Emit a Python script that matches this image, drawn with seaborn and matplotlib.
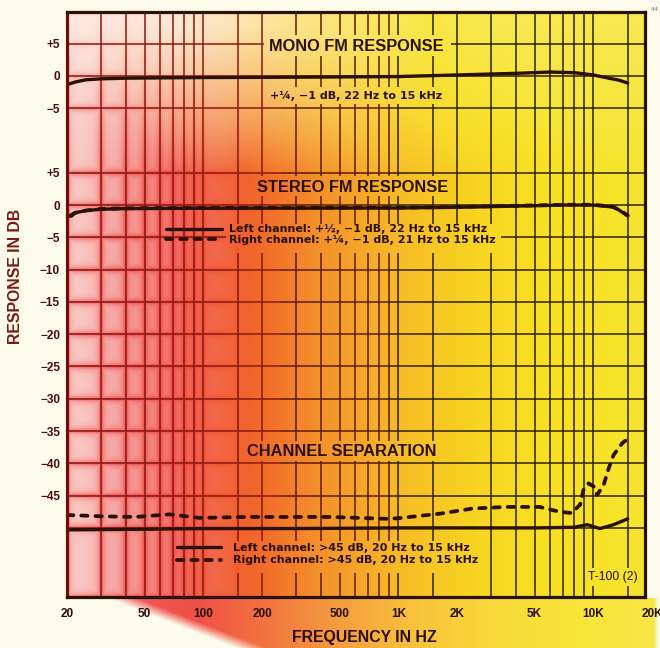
import numpy as np
import matplotlib
matplotlib.use("Agg")
import matplotlib.pyplot as plt
import seaborn as sns
from matplotlib.image import BboxImage
from matplotlib.transforms import Bbox, TransformedBbox, blended_transform_factory
from matplotlib.patches import Rectangle

# ---------------- data ----------------
x_tick_freqs = [20, 50, 100, 200, 500, 1000, 2000, 5000, 10000]
x_tick_labels = ["20", "50", "100", "200", "500", "1K", "2K", "5K", "10K"]
x_extra_freq = 20000
x_extra_label = "20K"

y_tick_values = [25, 20, 15, 5, 0, -5, -10, -15, -20, -25, -30, -35, -40, -45]
y_tick_labels = ["+5", "0", "−5", "+5", "0", "−5", "−10", "−15", "−20",
                 "−25", "−30", "−35", "−40", "−45"]

grid_freqs = [30, 40, 50, 60, 70, 80, 90, 100, 150, 200, 300, 400, 500, 600,
              700, 800, 900, 1000, 1500, 3000, 4000, 5000, 6000, 7000, 8000,
              9000, 10000, 15000]
partial_grid_freq = 2000
grid_levels = [25, 20, 15, 5, 0, -5, -10, -15, -20, -25, -30, -35, -40, -45, -50]

MONO_OFFSET = 20  # mono panel drawn 20 dB above the stereo scale

mono_freq = [20, 22, 25, 30, 40, 60, 100, 300, 1000, 2000, 4000, 6000, 8000,
             10000, 12000, 13500, 15000]
mono_db = [-1.35, -0.95, -0.6, -0.45, -0.35, -0.3, -0.25, -0.2, -0.1, 0.15,
           0.4, 0.6, 0.5, 0.15, -0.35, -0.65, -1.1]

stereo_left_freq = [20, 22, 25, 30, 40, 100, 1000, 2000, 5000, 7000, 10000,
                    12600, 13600, 15000]
stereo_left_db = [-1.85, -1.2, -0.85, -0.65, -0.55, -0.5, -0.45, -0.35, -0.1,
                  0.0, 0.0, -0.3, -0.8, -1.7]
stereo_right_freq = [21, 22, 25, 30, 40, 100, 1000, 2000, 5000, 7000, 10000,
                     12600, 13600, 15000]
stereo_right_db = [-1.7, -1.2, -0.85, -0.6, -0.5, -0.45, -0.4, -0.3, -0.05,
                   0.05, 0.05, -0.25, -0.75, -1.6]

sep_left_freq = [20, 50, 100, 300, 1000, 3000, 5000, 8000, 9300, 10800,
                 12700, 15000]
sep_left_db = [-50.3, -50.2, -50.1, -50.1, -50.0, -50.0, -50.0, -49.9, -49.5,
               -50.1, -49.5, -48.6]
sep_right_freq = [20, 30, 45, 67, 96, 170, 450, 875, 1000, 1630, 2400, 3600,
                  5300, 6700, 7750, 8550, 8900, 9450, 10050, 10450, 11300,
                  11980, 12700, 14050, 15000]
sep_right_db = [-48.0, -48.2, -48.3, -47.9, -48.45, -48.3, -48.3, -48.6, -48.5,
                -47.8, -47.0, -46.75, -46.75, -47.5, -47.7, -46.4, -44.1,
                -43.1, -43.6, -44.9, -43.3, -40.8, -38.7, -36.9, -36.2]

title_mono = "MONO FM RESPONSE"
note_mono = "+¼, −1 dB, 22 Hz to 15 kHz"
title_stereo = "STEREO FM RESPONSE"
stereo_labels = ["Left channel: +½, −1 dB, 22 Hz to 15 kHz",
                 "Right channel: +¼, −1 dB, 21 Hz to 15 kHz"]
title_sep = "CHANNEL SEPARATION"
sep_labels = ["Left channel: >45 dB, 20 Hz to 15 kHz",
              "Right channel: >45 dB, 20 Hz to 15 kHz"]
code_text = "T-100 (2)"
x_title = "FREQUENCY IN HZ"
y_title = "RESPONSE IN DB"

# ---------------- layout ----------------
W, H = 660, 648
AX_L, AX_R, AX_T, AX_B = 67, 645, 12, 597
INK = "#2a1005"

fig = plt.figure(figsize=(W / 100, H / 100), dpi=100)
bgax = fig.add_axes([0, 0, 1, 1], zorder=0)
ax = fig.add_axes([AX_L / W, 1 - AX_B / H, (AX_R - AX_L) / W, (AX_B - AX_T) / H], zorder=1)
ax.set_facecolor("none")
ax.set_xscale("log")
ax.set_xlim(20, 18400)
ax.set_ylim(-60.7, 29.9)


def fpx(x, y):
    return x / W, 1 - y / H


# ---------------- background (paper gradient) ----------------
vcols = list(ax.transData.transform([[f, 0] for f in grid_freqs + [partial_grid_freq]])[:, 0])
vcols += [AX_L, AX_R]
hrows = list(H - ax.transData.transform([[100, v] for v in grid_levels])[:, 1])
hrows += [AX_T, AX_B]

yy, xx = np.mgrid[0:H, 0:W].astype(float)
stops = np.array([67, 120, 180, 250, 320, 400, 480, 560, 645, 700])
cols = np.array([(242, 100, 100), (238, 70, 70), (238, 60, 50), (241, 100, 42),
                 (244, 145, 42), (247, 188, 38), (248, 214, 33), (247, 226, 33),
                 (246, 228, 48), (246, 228, 48)]) / 255.0


def ramp(xp):
    return np.stack([np.interp(xp, stops, cols[:, i]) for i in range(3)], -1)


t = np.clip((175 - yy) / 150, 0, 1)
base = ramp(xx + 150 * t)
wt = (0.62 * t * np.clip((430 - xx) / 250, 0, 1) + 0.15 * t)[..., None]
col = base * (1 - wt) + wt
dcol = np.min(np.abs(np.arange(W)[:, None] + 0.5 - np.array(vcols)[None, :]), axis=1)
drow = np.min(np.abs(np.arange(H)[:, None] + 0.5 - np.array(hrows)[None, :]), axis=1)
d = np.minimum(dcol[None, :], drow[:, None])
halo = np.exp(-d / 3.0)
s = np.clip((250 - xx) / 170, 0, 1)
cw = (0.75 * s * (1 - halo))[..., None]
col = col * (1 - cw) + cw * np.array([0.99, 0.93, 0.90])

cream = np.array([253, 251, 236]) / 255.0
inside = ((xx >= AX_L) & (xx <= AX_R) & (yy >= AX_T) & (yy <= AX_B))[..., None]
bg = np.where(inside, col, cream)
# colour smear below the frame
edge = 105 + (yy - AX_B) * 2.6
a = (np.clip((xx - edge) / 30, 0, 1) * np.clip((658 - xx) / 5, 0, 1)
     * (yy > AX_B))[..., None]
smear = ramp(xx - 15) * 0.9 + 0.1
bg = bg * (1 - a) + smear * a
bg = np.clip(bg, 0, 1)

bgax.imshow(bg, aspect="auto", interpolation="nearest")
bgax.axis("off")


def cover(x0, y0, x1, y1):
    bb = TransformedBbox(Bbox.from_bounds(0, 0, 1, 1), fig.transFigure)
    im = BboxImage(bb, interpolation="nearest")
    im.set_data(bg)
    im.set_zorder(1.5)
    ax.add_artist(im)
    r = Rectangle(fpx(x0, y1), (x1 - x0) / W, (y1 - y0) / H, transform=fig.transFigure)
    im.set_clip_path(r)


# ---------------- grid ----------------
def vcolor(f):
    if f <= 250:
        return "#8a1812"
    if f <= 900:
        return "#5c1a0a"
    return "#2e2208"


for f in grid_freqs:
    ax.axvline(f, color=vcolor(f), lw=1.1, zorder=1)
ylo, yhi = ax.get_ylim()
ax.axvline(partial_grid_freq, ymin=(-7 - ylo) / (yhi - ylo), ymax=1,
           color=vcolor(partial_grid_freq), lw=1.1, zorder=1)
for v in grid_levels:
    ax.hlines(v, 20, 250, color="#8a1812", lw=1.1, zorder=1)
    ax.hlines(v, 250, 900, color="#5c1a0a", lw=1.1, zorder=1)
    ax.hlines(v, 900, 18400, color="#2e2208", lw=1.1, zorder=1)

# covers behind the printed texts
cover(264, 35, 450, 55)
cover(266, 87, 448, 103)
cover(255, 176, 452, 195)
cover(226, 224, 500, 252)
cover(246, 441, 438, 460)
cover(229, 541, 484, 572)
cover(585, 568, 641, 585)

# ---------------- curves ----------------
SOLID = dict(color=INK, linewidth=2.4, solid_capstyle="round")
DASHED = dict(color=INK, linewidth=2.7, linestyle=(0, (1.7, 2.1)),
              dash_capstyle="round")


def curve(freq, vals, style):
    sns.lineplot(x=freq, y=vals, ax=ax, estimator=None, errorbar=None,
                 legend=False, zorder=3, **style)
    return ax.get_lines()[-1]


curve(mono_freq, np.asarray(mono_db) + MONO_OFFSET, SOLID)
h_st_l = curve(stereo_left_freq, stereo_left_db, SOLID)
h_st_r = curve(stereo_right_freq, stereo_right_db, DASHED)
h_sp_l = curve(sep_left_freq, sep_left_db, SOLID)
h_sp_r = curve(sep_right_freq, sep_right_db, DASHED)
ax.set_xlim(20, 18400)
ax.set_ylim(-60.7, 29.9)

# ---------------- ticks & spines ----------------
ax.set_xticks(x_tick_freqs)
ax.set_xticklabels(x_tick_labels)
ax.xaxis.set_minor_locator(matplotlib.ticker.NullLocator())
ax.set_yticks(y_tick_values)
ax.set_yticklabels(y_tick_labels)
ax.tick_params(axis="x", length=0, pad=7.9, labelsize=8.5, labelcolor="#2a0e06")
ax.tick_params(axis="y", length=0, pad=5, labelsize=8.5, labelcolor="#4a0c08")
for lab in ax.get_xticklabels() + ax.get_yticklabels():
    lab.set_fontfamily("Liberation Sans")
    lab.set_fontweight("bold")
ax.text(x_extra_freq, -11 / (AX_B - AX_T), x_extra_label,
        transform=blended_transform_factory(ax.transData, ax.transAxes),
        ha="center", va="top", fontsize=8.5, family="Liberation Sans",
        fontweight="bold", color="#2a0e06", clip_on=False)
for side, sp in ax.spines.items():
    sp.set_linewidth(2.3)
    sp.set_color("#6a100a" if side == "left" else "#2a1206")
    sp.set_zorder(4)

ax.set_xlabel(x_title, fontsize=11.4, family="Liberation Sans",
              fontweight="bold", color="#2a0e06")
ax.xaxis.set_label_coords((364 - AX_L) / (AX_R - AX_L), -(630 - AX_B) / (AX_B - AX_T))
ax.xaxis.label.set_va("top")
ax.set_ylabel(y_title, fontsize=11.4, family="Liberation Sans",
              fontweight="bold", color="#7a1a14")
ax.yaxis.set_label_coords((16 - AX_L) / (AX_R - AX_L), (AX_B - 276) / (AX_B - AX_T))
ax.yaxis.label.set_va("center")

# ---------------- texts ----------------
TITLE = dict(ha="center", va="baseline", family="Liberation Sans",
             fontweight="bold", fontsize=11.8, color=INK, zorder=5,
             transform=fig.transFigure)
SMALL = dict(family="DejaVu Sans", fontweight="bold", fontsize=8, color=INK,
             zorder=5, transform=fig.transFigure)
ax.text(*fpx(356.5, 51), title_mono, **TITLE)
ax.text(*fpx(356, 99), note_mono, ha="center", va="baseline", **SMALL)
ax.text(*fpx(353, 191.5), title_stereo, **TITLE)
ax.text(*fpx(342, 456.5), title_sep, **TITLE)
ax.text(*fpx(613, 580), code_text, ha="center", va="baseline",
        family="Liberation Sans", fontsize=8.8, color=INK, zorder=5,
        transform=fig.transFigure)
fig.text(*fpx(655, 11), "44", fontsize=4.5, color="#7a7a70", ha="center")

LEG = dict(loc="upper left", bbox_transform=fig.transFigure, frameon=False,
           borderpad=0, borderaxespad=0,
           prop={"family": "DejaVu Sans", "weight": "bold", "size": 8},
           labelcolor=INK)
leg1 = ax.legend(handles=[h_st_l, h_st_r], labels=stereo_labels,
                 bbox_to_anchor=fpx(166, 224.5), handlelength=5.0,
                 handletextpad=0.63, labelspacing=0.0, **LEG)
ax.add_artist(leg1)
leg2 = ax.legend(handles=[h_sp_l, h_sp_r], labels=sep_labels,
                 bbox_to_anchor=fpx(177, 543), handlelength=4.0,
                 handletextpad=1.0, labelspacing=0.22, **LEG)
leg1.set_zorder(5)
leg2.set_zorder(5)

fig.savefig("out.png", dpi=100)
